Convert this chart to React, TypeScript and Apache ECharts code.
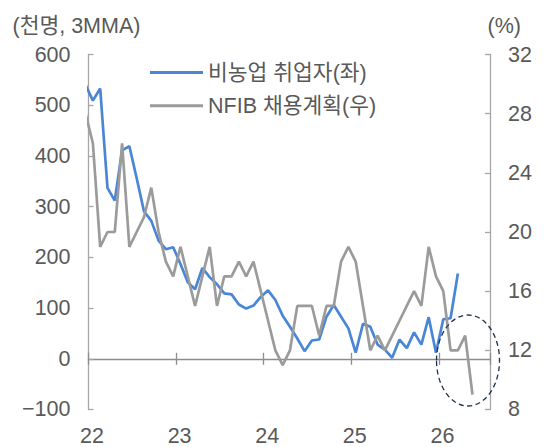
import React, { useEffect, useRef } from "react";
import * as echarts from "echarts";

// Monthly series, first entry = 2021-12 (partly hidden behind the left axis)
const firstMonth = { year: 2021, month: 12 };

// 비농업 취업자 (천명, 3MMA) – left axis
const payrolls = [
  540, 509, 533, 337, 312, 411, 419, 356, 291, 272, 233, 216, 220, 187, 151, 137,
  179, 161, 147, 129, 127, 107, 99, 105, 122, 135, 116, 85, 63, 40, 15, 36, 38, 83,
  106, 83, 60, 12, 69, 63, 28, 18, 2, 38, 21, 52, 28, 82, 12, 78, 80, 168,
];

// NFIB 채용계획 (%) – right axis
const nfibHiring = [
  28, 26, 19, 20, 20, 26, 19, 20, 21, 23, 20, 18, 17, 19, 17, 15, 17, 19, 15, 17,
  17, 18, 17, 18, 16, 14, 12, 11, 12, 15, 15, 15, 13, 15, 15, 18, 19, 18, 15, 12,
  13, 12, 13, 14, 15, 16, 15, 19, 17, 16, 12, 12, 13, 9,
];

const yearLabels = ["22", "23", "24", "25", "26"];
const leftTicks = { min: -100, max: 600, interval: 100 };
const rightTicks = { min: 8, max: 32, interval: 4 };
const seriesNames = ["비농업 취업자(좌)", "NFIB 채용계획(우)"];
const leftUnit = "(천명, 3MMA)";
const rightUnit = "(%)";

const FONT = "'Liberation Sans', 'Noto Sans CJK KR', sans-serif";
const LABEL = "#595959";
const FS = 21.5;

// month labels and their position on the month axis (months since 2022-01, plotted mid-month)
function monthLabels(n: number) {
  const out: string[] = [];
  let y = firstMonth.year;
  let m = firstMonth.month;
  for (let i = 0; i < n; i++) {
    out.push(`${y}-${String(m).padStart(2, "0")}`);
    m++;
    if (m > 12) {
      m = 1;
      y++;
    }
  }
  return out;
}
function monthPos(label: string) {
  const [y, m] = label.split("-").map(Number);
  return (y - 2022) * 12 + (m - 1) + 0.6;
}

export default function App() {
  const ref = useRef<HTMLDivElement>(null);
  useEffect(() => {
    if (!ref.current) return;
    const chart = echarts.init(ref.current, null, { renderer: "svg" });
    const payMonths = monthLabels(payrolls.length);
    const nfibMonths = monthLabels(nfibHiring.length);
    const baseX = {
      type: "value",
      min: 0,
      max: 55,
      interval: 12,
      splitLine: { show: false },
    };
    chart.setOption({
      animation: false,
      textStyle: { fontFamily: FONT },
      grid: { left: 88.5, right: 54, top: 54.5, bottom: 33, containLabel: false },
      legend: {
        orient: "vertical",
        left: 145,
        top: 56.5,
        icon: "rect",
        itemWidth: 53,
        itemHeight: 3,
        itemGap: 11.3,
        textStyle: { fontSize: FS, lineHeight: 22, color: LABEL, fontFamily: FONT },
        data: seriesNames,
      },
      xAxis: [
        {
          ...baseX,
          position: "bottom",
          axisLine: { show: false, onZero: false },
          axisTick: { show: false },
          axisLabel: {
            color: LABEL,
            fontSize: FS,
            margin: 16,
            padding: [0, 0, 0, 7],
            showMaxLabel: false,
            formatter: (v: number) => (v % 12 === 0 ? yearLabels[v / 12] ?? "" : ""),
          },
        },
        {
          ...baseX,
          position: "bottom",
          axisLine: { show: true, onZero: true, onZeroAxisIndex: 0, lineStyle: { color: "#8c8c8c", width: 1.3 } },
          axisTick: { show: true, inside: false, length: 6, lineStyle: { color: "#8c8c8c", width: 1.3 } },
          axisLabel: { show: false },
        },
        {
          ...baseX,
          position: "bottom",
          axisLine: { show: false, onZero: true, onZeroAxisIndex: 0 },
          axisTick: { show: true, inside: true, length: 6, lineStyle: { color: "#8c8c8c", width: 1.3 } },
          axisLabel: { show: false },
        },
      ],
      yAxis: [
        {
          type: "value",
          position: "left",
          ...leftTicks,
          splitLine: { show: false },
          axisLine: { show: true, onZero: false, lineStyle: { color: "#a6a6a6", width: 1.3 } },
          axisTick: { show: true, inside: true, length: 5, lineStyle: { color: "#a6a6a6", width: 1.3 } },
          axisLabel: {
            color: LABEL,
            fontSize: FS,
            margin: 18,
            formatter: (v: number) => (v < 0 ? "\u2212" + Math.abs(v) : String(v)),
          },
        },
        {
          type: "value",
          position: "right",
          ...rightTicks,
          splitLine: { show: false },
          axisLine: { show: true, onZero: false, lineStyle: { color: "#a6a6a6", width: 1.3 } },
          axisTick: { show: true, inside: true, length: 5, lineStyle: { color: "#a6a6a6", width: 1.3 } },
          axisLabel: { color: LABEL, fontSize: FS, margin: 18 },
        },
      ],
      series: [
        {
          name: seriesNames[0],
          type: "line",
          xAxisIndex: 0,
          yAxisIndex: 0,
          showSymbol: false,
          symbol: "none",
          color: "#4a86d6",
          lineStyle: { width: 2.7, color: "#4a86d6" },
          data: payrolls.map((v, i) => [monthPos(payMonths[i]), v]),
        },
        {
          name: seriesNames[1],
          type: "line",
          xAxisIndex: 0,
          yAxisIndex: 1,
          showSymbol: false,
          symbol: "none",
          color: "#9b9b9b",
          lineStyle: { width: 2.7, color: "#9b9b9b" },
          data: nfibHiring.map((v, i) => [monthPos(nfibMonths[i]), v]),
        },
      ],
      graphic: [
        {
          type: "text",
          x: 12.5,
          y: 25.5,
          style: { text: leftUnit, fontSize: FS, fill: LABEL, fontFamily: FONT, verticalAlign: "middle" },
        },
        {
          type: "text",
          x: 487.5,
          y: 25.5,
          style: { text: rightUnit, fontSize: FS, fill: LABEL, fontFamily: FONT, verticalAlign: "middle" },
        },
        {
          type: "ellipse",
          shape: { cx: 468, cy: 360.5, rx: 31.5, ry: 45.5 },
          style: { fill: "none", stroke: "#1f3050", lineWidth: 1.3, lineDash: [5, 3.5] },
          z: 100,
        },
      ],
    });
    return () => chart.dispose();
  }, []);
  return (
    <div
      ref={ref}
      style={{ position: "absolute", left: 0, top: 0, width: 544, height: 447 }}
    />
  );
}
